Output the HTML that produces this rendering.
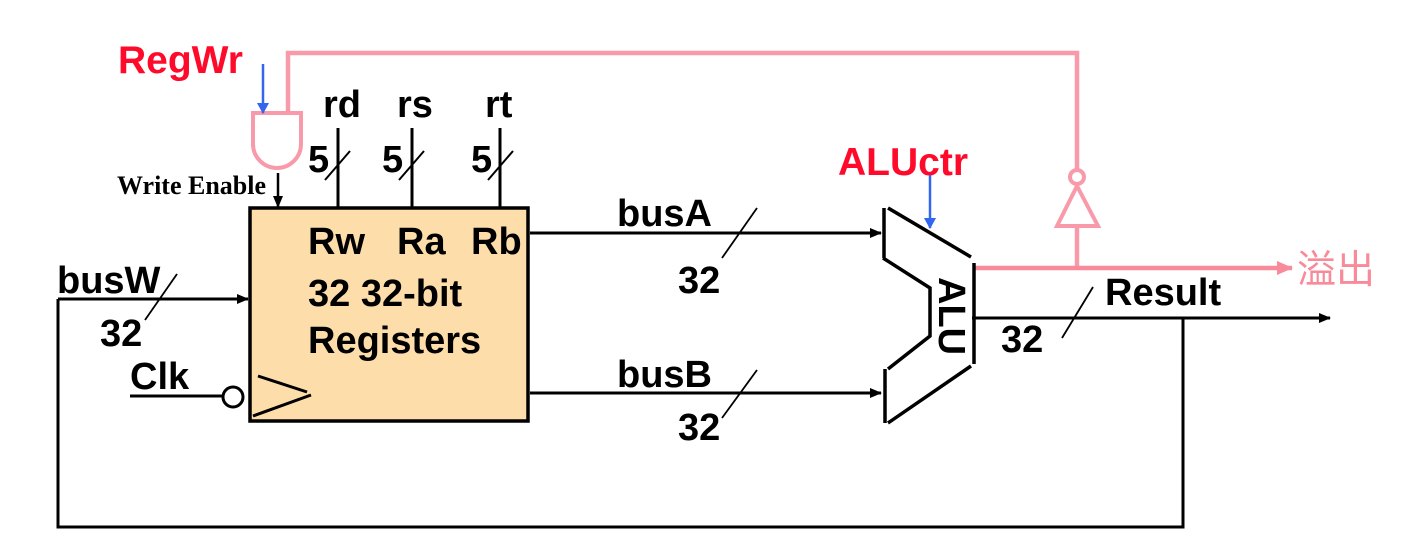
<!DOCTYPE html>
<html><head><meta charset="utf-8"><style>
html,body{margin:0;padding:0;background:#fff;width:1414px;height:546px;overflow:hidden}
text{font-family:"Liberation Sans","Noto Sans CJK SC",sans-serif;font-weight:bold}
</style></head><body>
<svg width="1414" height="546" viewBox="0 0 1414 546" xmlns="http://www.w3.org/2000/svg">
<defs>
<marker id="ak" markerWidth="12" markerHeight="12" refX="11" refY="6" orient="auto" markerUnits="userSpaceOnUse"><path d="M0,1 L12,6 L0,11 z" fill="#000"/></marker>
<marker id="ab" markerWidth="12" markerHeight="12" refX="11" refY="6" orient="auto" markerUnits="userSpaceOnUse"><path d="M1,0 L12,6 L1,12 z" fill="#3366ee"/></marker>
<marker id="ap" markerWidth="16" markerHeight="14" refX="15" refY="7" orient="auto" markerUnits="userSpaceOnUse"><path d="M0,0 L16,7 L0,14 z" fill="#f88a9a"/></marker>
</defs>
<rect x="250" y="208" width="278" height="213" fill="#fddeab" stroke="#000" stroke-width="3.5"/>
<polyline points="258,376 307,392" stroke="#000" stroke-width="3" fill="none"/>
<polyline points="253,416 311,395" stroke="#000" stroke-width="3" fill="none"/>
<text x="308" y="254" font-size="38">Rw</text>
<text x="397" y="254" font-size="38">Ra</text>
<text x="471" y="254" font-size="38">Rb</text>
<text x="308" y="306" font-size="38">32 32-bit</text>
<text x="308" y="353" font-size="38">Registers</text>
<polyline points="288,113 288,53 1077,53 1077,170" stroke="#f89aaa" stroke-width="4.5" fill="none"/>
<path d="M253,113 L301,113 L301,144 A24,24 0 0 1 253,144 Z" fill="#fff" stroke="#f89aaa" stroke-width="4"/>
<circle cx="1077" cy="177" r="7" fill="#fff" stroke="#f89aaa" stroke-width="4"/>
<polygon points="1077,186 1057,226 1098,226" fill="#fff" stroke="#f89aaa" stroke-width="4"/>
<line x1="1077" y1="226" x2="1077" y2="268" stroke="#f89aaa" stroke-width="4.5"/>
<line x1="974" y1="268" x2="1292" y2="268" stroke="#f88a9a" stroke-width="4.5" marker-end="url(#ap)"/>
<text x="1297" y="283" font-size="39" fill="#f88a9a" style="font-weight:normal">溢出</text>
<text x="118" y="73" font-size="39" fill="#ff0a2a">RegWr</text>
<line x1="263" y1="64" x2="263" y2="113" stroke="#3366ee" stroke-width="2.5" marker-end="url(#ab)"/>
<text x="838" y="175" font-size="39" fill="#ff0a2a">ALUctr</text>
<line x1="930" y1="175" x2="930" y2="228" stroke="#3366ee" stroke-width="2.5" marker-end="url(#ab)"/>
<text x="117" y="194" font-size="26" style="font-family:'Liberation Serif',serif">Write Enable</text>
<line x1="278" y1="173" x2="278" y2="207" stroke="#000" stroke-width="2.5" marker-end="url(#ak)"/>
<text x="323" y="117" font-size="38">rd</text>
<text x="397" y="117" font-size="38">rs</text>
<text x="485" y="117" font-size="38">rt</text>
<g stroke="#000" stroke-width="3"><line x1="338" y1="128" x2="338" y2="207"/><line x1="412" y1="128" x2="412" y2="207"/><line x1="500" y1="128" x2="500" y2="207"/></g>
<g stroke="#000" stroke-width="2"><line x1="325" y1="180" x2="350" y2="151"/><line x1="399" y1="180" x2="424" y2="151"/><line x1="488" y1="180" x2="513" y2="151"/></g>
<text x="308" y="172" font-size="38">5</text>
<text x="382" y="172" font-size="38">5</text>
<text x="471" y="172" font-size="38">5</text>
<line x1="530" y1="233" x2="881" y2="233" stroke="#000" stroke-width="3" marker-end="url(#ak)"/>
<line x1="530" y1="393" x2="881" y2="393" stroke="#000" stroke-width="3" marker-end="url(#ak)"/>
<line x1="58" y1="299" x2="248" y2="299" stroke="#000" stroke-width="3" marker-end="url(#ak)"/>
<polyline points="58,299 58,527 1183,527 1183,318" stroke="#000" stroke-width="3" fill="none"/>
<line x1="972" y1="318" x2="1330" y2="318" stroke="#000" stroke-width="3" marker-end="url(#ak)"/>
<line x1="130" y1="396" x2="223" y2="396" stroke="#000" stroke-width="3"/>
<circle cx="233" cy="397" r="10" fill="#fff" stroke="#000" stroke-width="3"/>
<g stroke="#000" stroke-width="1.8">
<line x1="722" y1="258" x2="757" y2="208"/>
<line x1="722" y1="418" x2="757" y2="370"/>
<line x1="1062" y1="338" x2="1093" y2="287"/>
<line x1="145" y1="320" x2="177" y2="274"/>
</g>
<text x="617" y="226" font-size="38">busA</text>
<text x="678" y="293" font-size="38">32</text>
<text x="617" y="387" font-size="38">busB</text>
<text x="678" y="440" font-size="38">32</text>
<text x="57" y="293" font-size="38">busW</text>
<text x="100" y="346" font-size="38">32</text>
<text x="130" y="389" font-size="38">Clk</text>
<text x="1105" y="305" font-size="38">Result</text>
<text x="1001" y="352" font-size="38">32</text>
<g stroke="#000" stroke-width="3.5" fill="none">
<line x1="884" y1="208" x2="884" y2="258"/>
<line x1="888" y1="208" x2="971" y2="257"/>
<line x1="974" y1="263" x2="974" y2="364"/>
<polyline points="883,258 930,288 930,336 888,369"/>
<line x1="885" y1="369" x2="885" y2="423"/>
<line x1="888" y1="423" x2="971" y2="366"/>
</g>
<text x="0" y="0" font-size="38" transform="translate(939,277) rotate(90)">ALU</text>
</svg>
</body></html>
